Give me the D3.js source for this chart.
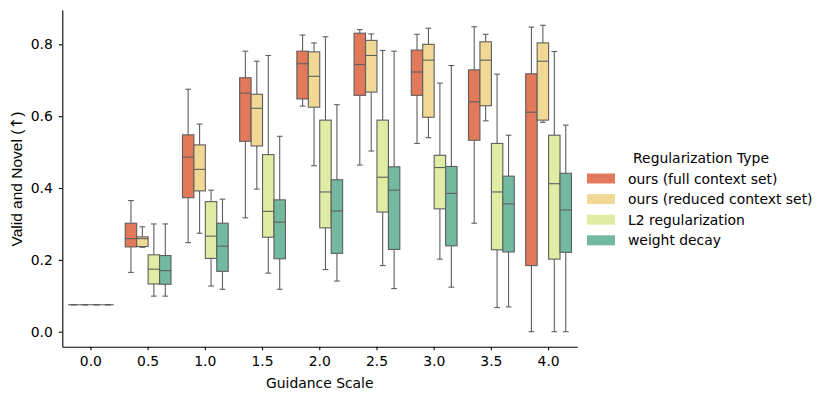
<!DOCTYPE html>
<html>
<head>
<meta charset="utf-8">
<script src="https://cdn.jsdelivr.net/npm/d3@7"></script>
<style>
  body { margin: 0; background: #fff; }
  text { font-family: "DejaVu Sans", sans-serif; }
</style>
</head>
<body>
<svg id="chart" width="831" height="401"></svg>
<script>
// guidance scale categories
const categories = ['0.0', '0.5', '1.0', '1.5', '2.0', '2.5', '3.0', '3.5', '4.0']
const seriesNames = ['ours (full context set)', 'ours (reduced context set)', 'L2 regularization', 'weight decay']
const yTicks = [0.0, 0.2, 0.4, 0.6, 0.8]

// each row: [whisker low, q1, median, q3, whisker high]
const fullContext = [
  [0.075, 0.075, 0.075, 0.075, 0.075],
  [0.165, 0.236, 0.259, 0.302, 0.365],
  [0.248, 0.373, 0.486, 0.548, 0.675],
  [0.317, 0.530, 0.664, 0.707, 0.781],
  [0.628, 0.648, 0.746, 0.781, 0.826],
  [0.464, 0.658, 0.744, 0.831, 0.841],
  [0.524, 0.658, 0.723, 0.784, 0.828],
  [0.302, 0.533, 0.640, 0.729, 0.849],
  [0.000, 0.184, 0.611, 0.718, 0.848]
]
const reducedContext = [
  [0.075, 0.075, 0.075, 0.075, 0.075],
  [0.235, 0.237, 0.259, 0.264, 0.292],
  [0.274, 0.392, 0.452, 0.520, 0.578],
  [0.397, 0.517, 0.622, 0.661, 0.753],
  [0.462, 0.625, 0.711, 0.779, 0.804],
  [0.503, 0.667, 0.769, 0.811, 0.829],
  [0.540, 0.597, 0.756, 0.800, 0.845],
  [0.587, 0.629, 0.756, 0.807, 0.828],
  [0.583, 0.589, 0.753, 0.804, 0.853]
]
const l2Reg = [
  [0.075, 0.075, 0.075, 0.075, 0.075],
  [0.099, 0.133, 0.174, 0.214, 0.300],
  [0.127, 0.204, 0.266, 0.362, 0.394],
  [0.163, 0.263, 0.335, 0.493, 0.769],
  [0.173, 0.289, 0.389, 0.589, 0.821],
  [0.184, 0.333, 0.430, 0.589, 0.783],
  [0.202, 0.342, 0.457, 0.491, 0.692],
  [0.067, 0.228, 0.389, 0.524, 0.717],
  [0.000, 0.202, 0.412, 0.547, 0.780]
]
const weightDecay = [
  [0.075, 0.075, 0.075, 0.075, 0.075],
  [0.099, 0.132, 0.170, 0.212, 0.300],
  [0.118, 0.168, 0.238, 0.302, 0.369],
  [0.118, 0.203, 0.305, 0.367, 0.544],
  [0.141, 0.218, 0.336, 0.423, 0.632],
  [0.120, 0.229, 0.394, 0.459, 0.781],
  [0.124, 0.239, 0.385, 0.460, 0.741],
  [0.069, 0.222, 0.356, 0.433, 0.547],
  [0.000, 0.221, 0.339, 0.441, 0.575]
]

const colors = ['#e1795a', '#f1d895', '#e0eba3', '#72b9a0']
const edge = '#5e5e5e'

let margin = {top: 10, left: 62.3}
let plotRight = 577.2
let plotBottom = 346.7

let svg = d3.select('#chart')

let xScale = d3.scaleBand()
  .domain(categories)
  .range([margin.left, plotRight])

let hueScale = d3.scaleBand()
  .domain(seriesNames)
  .range([0.1 * xScale.bandwidth(), 0.9 * xScale.bandwidth()])

let yScale = d3.scaleLinear()
  .domain([-0.0418, 0.8956])
  .range([plotBottom, margin.top])

// axes
let xAxis = svg.append('g')
  .attr('transform', `translate(0,${plotBottom})`)
  .call(d3.axisBottom(xScale).tickSize(3.5).tickPadding(6).tickSizeOuter(0))
let yAxis = svg.append('g')
  .attr('transform', `translate(${margin.left},0)`)
  .call(d3.axisLeft(yScale).tickValues(yTicks).tickFormat(d3.format('.1f')).tickSize(3.5).tickPadding(6).tickSizeOuter(0))

;[xAxis, yAxis].forEach(a => {
  a.select('.domain').attr('stroke', '#000').attr('stroke-width', 1.1)
  a.selectAll('.tick line').attr('stroke', '#000').attr('stroke-width', 1.1)
  a.selectAll('.tick text').attr('font-size', 13.9).attr('fill', '#000')
    .style('font-family', '"DejaVu Sans", sans-serif')
})

svg.append('text')
  .attr('x', (margin.left + plotRight) / 2)
  .attr('y', 388)
  .attr('text-anchor', 'middle')
  .attr('font-size', 13.9)
  .text('Guidance Scale')

let ylab = svg.append('text')
  .attr('transform', 'translate(22,179) rotate(-90)')
  .attr('text-anchor', 'middle')
  .attr('font-size', 15.5)
  .style('font-family', '"Liberation Sans", Arial, sans-serif')
ylab.append('tspan').text('Valid and Novel (')
ylab.append('tspan').style('font-family', '"DejaVu Sans", sans-serif').text('\u2191')
ylab.append('tspan').text(')')

// boxes
let allSeries = [fullContext, reducedContext, l2Reg, weightDecay]
let boxW = hueScale.bandwidth()

allSeries.forEach((rows, si) => {
  let g = svg.append('g').attr('class', 'series')
  rows.forEach((r, ci) => {
    let x0 = xScale(categories[ci]) + hueScale(seriesNames[si])
    let cx = x0 + boxW / 2
    let capW = boxW / 2
    // whiskers
    g.append('line')
      .attr('x1', cx).attr('x2', cx)
      .attr('y1', yScale(r[0])).attr('y2', yScale(r[1]))
      .attr('stroke', edge).attr('stroke-width', 1.1)
    g.append('line')
      .attr('x1', cx).attr('x2', cx)
      .attr('y1', yScale(r[3])).attr('y2', yScale(r[4]))
      .attr('stroke', edge).attr('stroke-width', 1.1)
    ;[r[0], r[4]].forEach(v => {
      g.append('line')
        .attr('x1', cx - capW / 2).attr('x2', cx + capW / 2)
        .attr('y1', yScale(v)).attr('y2', yScale(v))
        .attr('stroke', edge).attr('stroke-width', 1.1)
    })
    g.append('rect')
      .attr('x', x0)
      .attr('y', yScale(r[3]))
      .attr('width', boxW)
      .attr('height', yScale(r[1]) - yScale(r[3]))
      .attr('fill', colors[si])
      .attr('stroke', edge)
      .attr('stroke-width', 1.1)
    g.append('line')
      .attr('x1', x0).attr('x2', x0 + boxW)
      .attr('y1', yScale(r[2])).attr('y2', yScale(r[2]))
      .attr('stroke', edge).attr('stroke-width', 1.1)
  })
})

// legend
let legend = svg.append('g').attr('transform', 'translate(587,0)')
legend.append('text')
  .attr('x', 114)
  .attr('y', 163)
  .attr('text-anchor', 'middle')
  .attr('font-size', 13.9)
  .text('Regularization Type')

let items = legend.selectAll('.item')
  .data(seriesNames)
  .enter().append('g')
  .attr('class', 'item')
  .attr('transform', (d, i) => `translate(0,${178.5 + i * 20.6})`)
items.append('rect')
  .attr('x', 0).attr('y', -5)
  .attr('width', 28).attr('height', 10)
  .attr('fill', (d, i) => colors[i])
items.append('text')
  .attr('x', 41)
  .attr('y', 5)
  .attr('font-size', 13.9)
  .text(d => d)
</script>
</body>
</html>
